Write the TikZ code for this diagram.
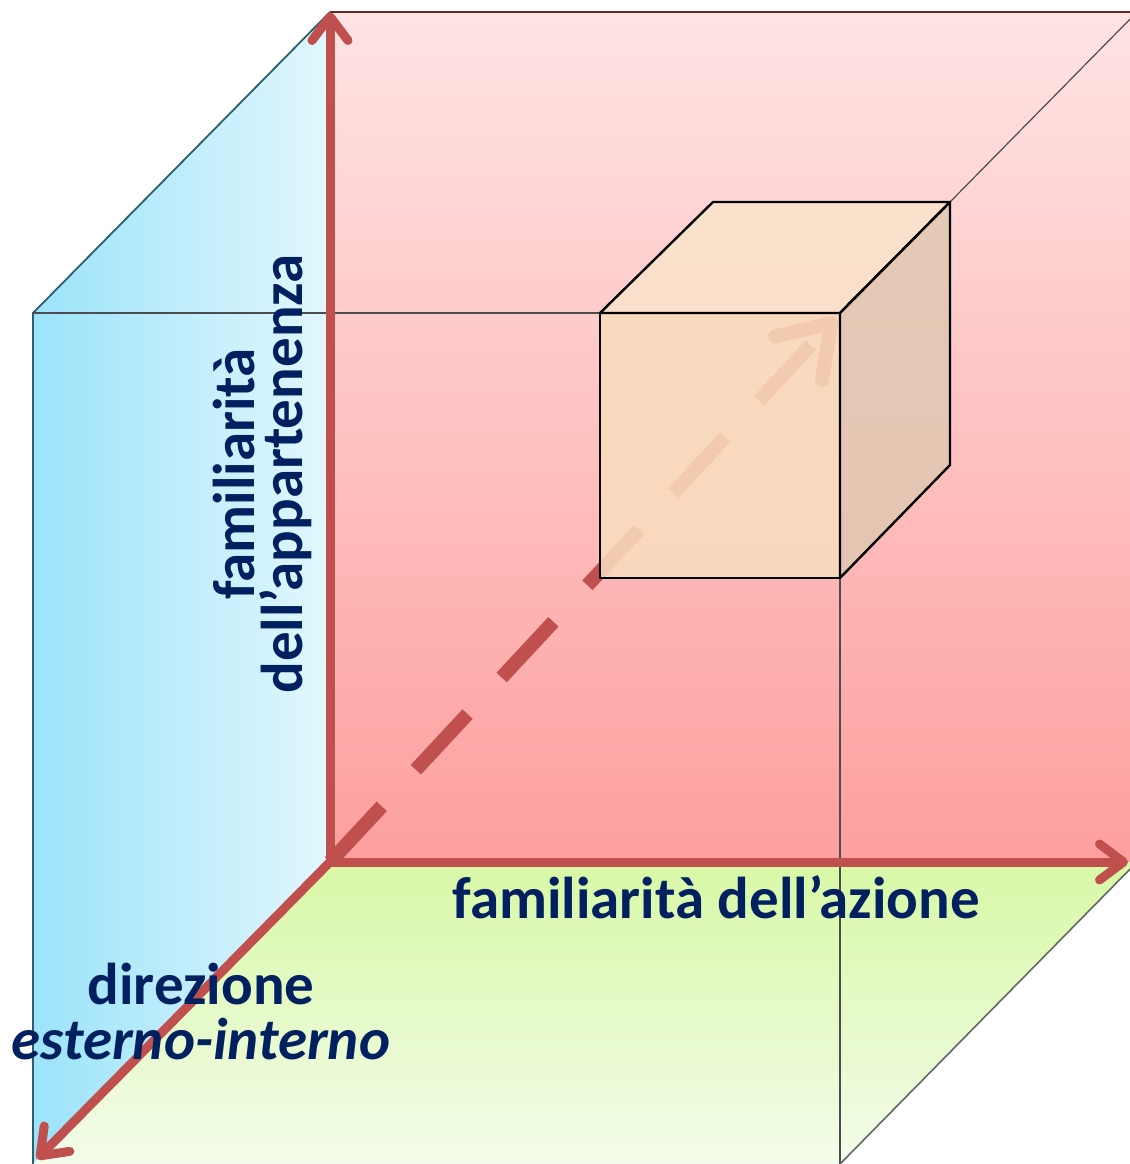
\documentclass[tikz,border=0pt]{standalone}
\usepackage{fontspec}
\setmainfont{Carlito}
\usetikzlibrary{positioning, arrows.meta}
\definecolor{axisred}{HTML}{C0504D}
\definecolor{labelblue}{HTML}{002060}
\definecolor{edgeteal}{HTML}{2B5F6E}
\definecolor{backtop}{HTML}{FFE4E4}
\definecolor{backbottom}{HTML}{FD9F9E}
\definecolor{sideleft}{HTML}{9CE3FA}
\definecolor{sideright}{HTML}{E2F7FD}
\definecolor{floortop}{HTML}{D8F9A6}
\definecolor{floorbottom}{HTML}{F3FBEA}
\definecolor{cubefront}{HTML}{F8D3AC}
\definecolor{cubetop}{HTML}{F9DCBC}
\definecolor{cubeside}{HTML}{D8B89C}
\tikzset{
	x=0.5pt, y=-0.5pt, % one unit is one pixel of the reference
	axis/.style={line width=4.5pt, draw=axisred, line cap=round,
		-{Straight Barb[length=12pt, width=18pt, round]}}, % the three axes
	diagonal/.style={line width=7pt, draw=axisred, dash pattern=on 38pt off 25pt,
		-{Straight Barb[length=24pt, width=32pt, round]}}, % dashed arrow through the cube
	edge/.style={draw=black!70, line width=0.6pt}, % thin edges of the big cube
	small/.style={draw=black, line width=1.2pt, line join=round, fill opacity=0.68}, % faces of the small cube
	label/.style={text=labelblue, font=\bfseries\fontsize{29.5}{24}\selectfont, inner sep=0pt, align=center},
}
\begin{document}
\begin{tikzpicture}
	\useasboundingbox (0,0) rectangle (1130,1164);
	% corners of the big cube
	\coordinate (O) at (330,862);
	\coordinate (btl) at (330,12);
	\coordinate (btr) at (1137,12);
	\coordinate (bbr) at (1137,862);
	\coordinate (ftl) at (33,313);
	\coordinate (fbl) at (33,1164);
	\coordinate (fbr) at (840,1164);
	% corners of the small cube
	\coordinate (s1) at (600,313);
	\coordinate (s2) at (840,313);
	\coordinate (s3) at (840,578);
	\coordinate (s4) at (600,578);
	\coordinate (t1) at (713,202);
	\coordinate (t2) at (950,202);
	\coordinate (t3) at (950,465);
	% axis ends
	\coordinate (up) at (330,12);
	\coordinate (right) at (1128,862);
	\coordinate (down) at (37,1159);
	\coordinate (inner) at (836,318);

	% faces
	\shade[top color=backtop, bottom color=backbottom] (btl) -- (btr) -- (bbr) -- (O) -- cycle;
	\shade[left color=sideleft, right color=sideright] (ftl) -- (btl) -- (O) -- (fbl) -- cycle;
	\shade[top color=floortop, bottom color=floorbottom] (O) -- (bbr) -- (fbr) -- (fbl) -- cycle;
	\draw[draw=axisred!50!black, line width=1.2pt] (btl) -- (btr);
	\draw[edgeteal, line width=0.9pt] (fbl) -- (ftl) -- (btl);
	\draw[edge] (ftl) -- (s1);
	\draw[edge] (s3) -- (fbr);
	\draw[edge] (t2) -- (btr);
	\draw[black!60, line width=0.8pt] (bbr) -- (fbr);

	% axes
	\draw[axis] (O) -- (up);
	\draw[axis] (O) -- (right);
	\draw[axis] (O) -- (down);
	\draw[diagonal] (O) -- (inner);

	% small cube
	\fill[white, opacity=0.6, shift={(5,5)}] (s1) -- (t1) -- (t2) -- (t3) -- (s3) -- (s4) -- cycle;
	\draw[small, fill=cubefront] (s1) -- (s2) -- (s3) -- (s4) -- cycle;
	\draw[small, fill=cubetop] (s1) -- (t1) -- (t2) -- (s2) -- cycle;
	\draw[small, fill=cubeside] (s2) -- (t2) -- (t3) -- (s3) -- cycle;

	% labels
	\node[label, rotate=90] (vert) at (262,474) {familiarità\\dell’appartenenza};
	\node[label, anchor=base] (horiz) at (716,918) {familiarità dell’azione};
	\node[label, anchor=base] (dir) at (201,1004) {direzione};
	\node[label, anchor=base, font=\bfseries\itshape\fontsize{29.5}{24}\selectfont] (ext) at (201,1059) {esterno-interno};
\end{tikzpicture}
\end{document}
